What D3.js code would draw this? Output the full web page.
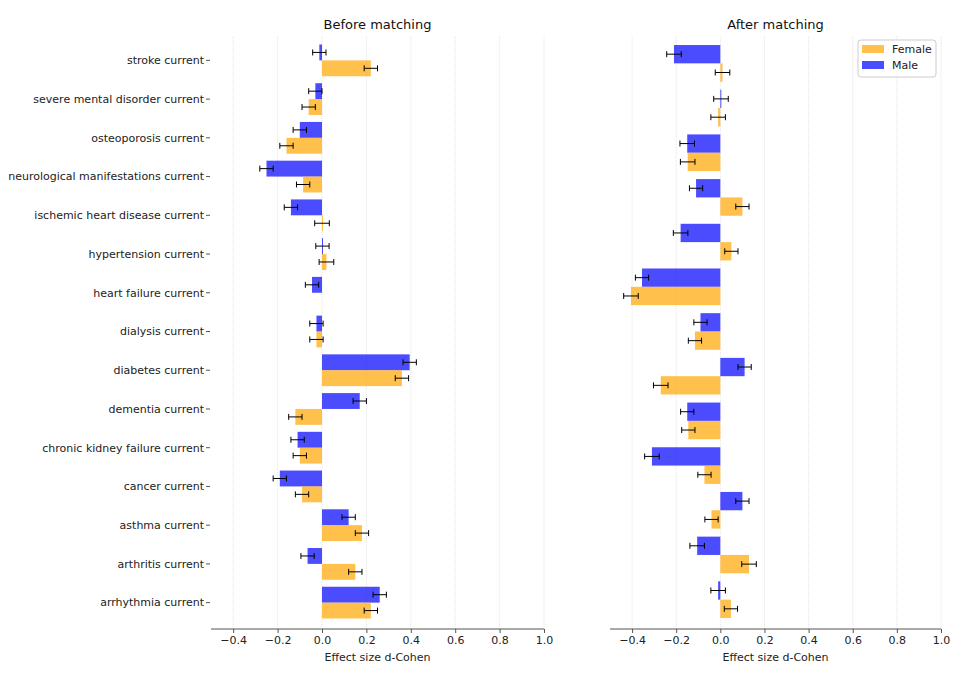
<!DOCTYPE html>
<html>
<head>
<meta charset="utf-8">
<script src="https://cdn.jsdelivr.net/npm/d3@7"></script>
<style>
  body { margin: 0; background: #fff; }
  text { font-family: "DejaVu Sans", sans-serif; }
</style>
</head>
<body>
<svg id="chart" width="966" height="679"></svg>
<script>
// ---- data ----
const categoriesBefore = ["stroke current", "severe mental disorder current", "osteoporosis current",
  "neurological manifestations current", "ischemic heart disease current", "hypertension current",
  "heart failure current", "dialysis current", "diabetes current", "dementia current",
  "chronic kidney failure current", "cancer current", "asthma current", "arthritis current",
  "arrhythmia current"];
const maleBefore   = [-0.012, -0.03, -0.10, -0.25, -0.14, 0.002, -0.045, -0.025, 0.395, 0.17, -0.11, -0.19, 0.12, -0.065, 0.26];
const femaleBefore = [0.22, -0.06, -0.16, -0.085, 0.0, 0.02, null, -0.025, 0.36, -0.12, -0.10, -0.09, 0.18, 0.15, 0.22];
const maleErrBefore   = [0.03, 0.03, 0.03, 0.03, 0.03, 0.03, 0.03, 0.03, 0.03, 0.03, 0.03, 0.03, 0.03, 0.03, 0.03];
const femaleErrBefore = [0.03, 0.03, 0.03, 0.03, 0.033, 0.033, null, 0.03, 0.03, 0.03, 0.03, 0.03, 0.03, 0.03, 0.03];

const categoriesAfter = ["stroke current", "severe mental disorder current", "osteoporosis current",
  "neurological manifestations current", "ischemic heart disease current", "heart failure current",
  "dialysis current", "diabetes current", "dementia current", "chronic kidney failure current",
  "cancer current", "arthritis current", "arrhythmia current"];
const maleAfter   = [-0.21, 0.003, -0.15, -0.11, -0.18, -0.355, -0.09, 0.11, -0.15, -0.31, 0.10, -0.105, -0.01];
const femaleAfter = [0.01, -0.01, -0.148, 0.10, 0.05, -0.405, -0.115, -0.27, -0.145, -0.072, -0.04, 0.13, 0.048];
const maleErrAfter   = [0.033, 0.033, 0.033, 0.03, 0.033, 0.03, 0.03, 0.03, 0.03, 0.033, 0.03, 0.033, 0.033];
const femaleErrAfter = [0.033, 0.033, 0.033, 0.03, 0.03, 0.033, 0.03, 0.033, 0.03, 0.03, 0.03, 0.033, 0.03];

const xTicks = [-0.4, -0.2, 0.0, 0.2, 0.4, 0.6, 0.8, 1.0];
const colors = { Female: "orange", Male: "blue" };

const svg = d3.select("#chart");
const plotTop = 41, plotBottom = 622, axisY = 629;

function panel(x0, x1, title, cats, male, female, mErr, fErr, showLabels) {
  const x = d3.scaleLinear().domain([-0.5, 1.0]).range([x0, x1]);
  const y = d3.scaleBand().domain(cats).range([plotTop, plotBottom]);
  const h = y.step() * 0.41;
  const g = svg.append("g");

  g.selectAll(".grid").data(xTicks).join("line")
    .attr("x1", d => x(d)).attr("x2", d => x(d))
    .attr("y1", 36).attr("y2", axisY)
    .attr("stroke", "#ddd").attr("stroke-width", 0.8).attr("stroke-dasharray", "1,1");

  const series = [
    { name: "Male", vals: male, errs: mErr, off: -h },
    { name: "Female", vals: female, errs: fErr, off: 0 }
  ];
  series.forEach(s => {
    cats.forEach((c, i) => {
      const v = s.vals[i];
      if (v == null) return;
      const cy = y(c) + y.bandwidth() / 2;
      g.append("rect")
        .attr("x", Math.min(x(0), x(v))).attr("width", Math.max(Math.abs(x(v) - x(0)), 1))
        .attr("y", cy + s.off).attr("height", h)
        .attr("fill", colors[s.name]).attr("fill-opacity", 0.7);
      const e = s.errs[i];
      const ey = cy + s.off + h / 2;
      g.append("line").attr("x1", x(v - e)).attr("x2", x(v + e)).attr("y1", ey).attr("y2", ey)
        .attr("stroke", "#000").attr("stroke-width", 1);
      [v - e, v + e].forEach(t => g.append("line").attr("x1", x(t)).attr("x2", x(t))
        .attr("y1", ey - 3).attr("y2", ey + 3).attr("stroke", "#000").attr("stroke-width", 1));
    });
  });

  const ax = g.append("g").attr("transform", `translate(0,${axisY})`)
    .call(d3.axisBottom(x).tickValues(xTicks).tickSize(4).tickFormat(d => d3.format(".1f")(d).replace("-", "\u2212")));
  ax.select(".domain").attr("stroke", "#555").attr("d", `M${x0},0H${x1}`);
  ax.selectAll("text").attr("font-size", 11).attr("fill", "#222").attr("font-family", "DejaVu Sans");
  ax.selectAll(".tick line").attr("stroke", "#555");

  if (showLabels) {
    cats.forEach(c => {
      const cy = y(c) + y.bandwidth() / 2;
      g.append("text").attr("x", x0 - 7).attr("y", cy).attr("dy", "0.35em")
        .attr("text-anchor", "end").attr("font-size", 11).attr("fill", "#222").text(c);
      g.append("line").attr("x1", x0 - 5).attr("x2", x0 - 1).attr("y1", cy).attr("y2", cy)
        .attr("stroke", "#555");
    });
  }

  g.append("text").attr("x", (x0 + x1) / 2).attr("y", 29).attr("text-anchor", "middle")
    .attr("font-size", 13).attr("fill", "#111").text(title);
  g.append("text").attr("x", x(0.25)).attr("y", 661).attr("text-anchor", "middle")
    .attr("font-size", 11).attr("fill", "#222").text("Effect size d-Cohen");
}

panel(211, 544, "Before matching", categoriesBefore, maleBefore, femaleBefore, maleErrBefore, femaleErrBefore, true);
panel(610, 941, "After matching", categoriesAfter, maleAfter, femaleAfter, maleErrAfter, femaleErrAfter, false);

// legend
const lg = svg.append("g").attr("transform", "translate(858,40)");
lg.append("rect").attr("width", 78).attr("height", 37).attr("rx", 3)
  .attr("fill", "#fff").attr("stroke", "#ccc");
["Female", "Male"].forEach((n, i) => {
  lg.append("rect").attr("x", 4).attr("y", 5 + i * 16).attr("width", 22).attr("height", 8)
    .attr("fill", colors[n]).attr("fill-opacity", 0.7);
  lg.append("text").attr("x", 34).attr("y", 9 + i * 16).attr("dy", "0.35em")
    .attr("font-size", 11).attr("fill", "#222").text(n);
});
</script>
</body>
</html>
